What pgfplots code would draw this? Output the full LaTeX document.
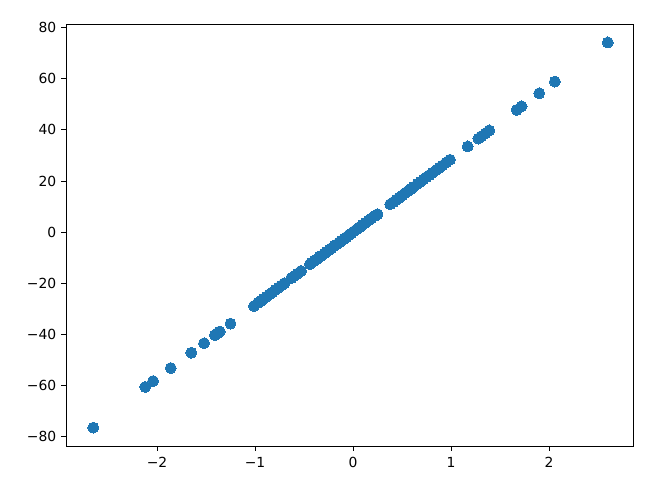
\documentclass[border=0pt]{standalone}
\usepackage{fontspec}
\setmainfont{DejaVu Sans}
\usepackage{pgfplots}
\pgfplotsset{compat=1.18}
\definecolor{mplblue}{HTML}{1F77B4}
\begin{document}
\fontsize{10pt}{12pt}\selectfont
\begin{tikzpicture}
\begin{axis}[
  scale only axis,
  width=408.2pt, height=303.8pt,
  xmin=-2.929, xmax=2.857,
  ymin=-83.7, ymax=81.4,
  axis line style={line width=0.58pt},
  tick style={line width=0.58pt, black},
  tick align=outside,
  major tick length=3.5pt,
  xtick={-2,-1,0,1,2},
  xticklabels={−2,−1,0,1,2},
  ytick={-80,-60,-40,-20,0,20,40,60,80},
  yticklabels={−80,−60,−40,−20,0,20,40,60,80},
  xtick pos=bottom, ytick pos=left,
  tick label style={font=\fontsize{10pt}{12pt}\selectfont},
  xticklabel style={yshift=-1pt},
  /pgf/number format/assume math mode=true,
  clip=false,
]
\addplot[only marks, mark=*, mark size=3.95pt, mplblue, mark options={draw=mplblue, fill=mplblue, line width=0pt}] coordinates {
(-2.65,-76.5) (-2.12,-60.6) (-2.04,-58.3) (-1.86,-53.2) (-1.65,-47.2)
(-1.52,-43.5) (-1.41,-40.3) (-1.38,-39.5) (-1.36,-38.9) (-1.25,-35.8)
(-1.01,-28.9) (-0.97,-27.7) (-0.94,-26.9) (-0.91,-26.0) (-0.88,-25.2)
(-0.85,-24.3) (-0.82,-23.5) (-0.79,-22.6) (-0.76,-21.7) (-0.73,-20.9)
(-0.70,-20.0) (-0.63,-18.0) (-0.60,-17.2) (-0.57,-16.3) (-0.53,-15.2)
(-0.44,-12.6) (-0.42,-12.0) (-0.39,-11.2) (-0.37,-10.6) (-0.34,-9.7)
(-0.32,-9.2) (-0.29,-8.3) (-0.27,-7.7) (-0.24,-6.9) (-0.22,-6.3)
(-0.19,-5.4) (-0.17,-4.9) (-0.14,-4.0) (-0.12,-3.4) (-0.09,-2.6)
(-0.07,-2.0) (-0.04,-1.1) (-0.02,-0.6) (0.01,0.3) (0.04,1.1)
(0.07,2.0) (0.10,2.9) (0.13,3.7) (0.16,4.6) (0.19,5.4)
(0.22,6.3) (0.25,7.0)
(0.38,10.9) (0.41,11.7) (0.44,12.6) (0.47,13.4) (0.50,14.3)
(0.53,15.2) (0.56,16.0) (0.59,16.9) (0.62,17.7) (0.66,18.9)
(0.69,19.7) (0.72,20.6) (0.75,21.5) (0.78,22.3) (0.81,23.2)
(0.85,24.3) (0.88,25.2) (0.91,26.0) (0.95,27.2) (0.99,28.3)
(1.17,33.5) (1.28,36.6) (1.31,37.5) (1.35,38.6) (1.39,39.8)
(1.67,47.8) (1.72,49.2) (1.90,54.3) (2.06,58.9) (2.60,74.2)
};
\end{axis}
\pgfresetboundingbox
\path[use as bounding box] ([shift={(-47.5pt,-31pt)}]current axis.south west) rectangle ([shift={(28.1pt,17.3pt)}]current axis.north east);
\end{tikzpicture}
\end{document}
